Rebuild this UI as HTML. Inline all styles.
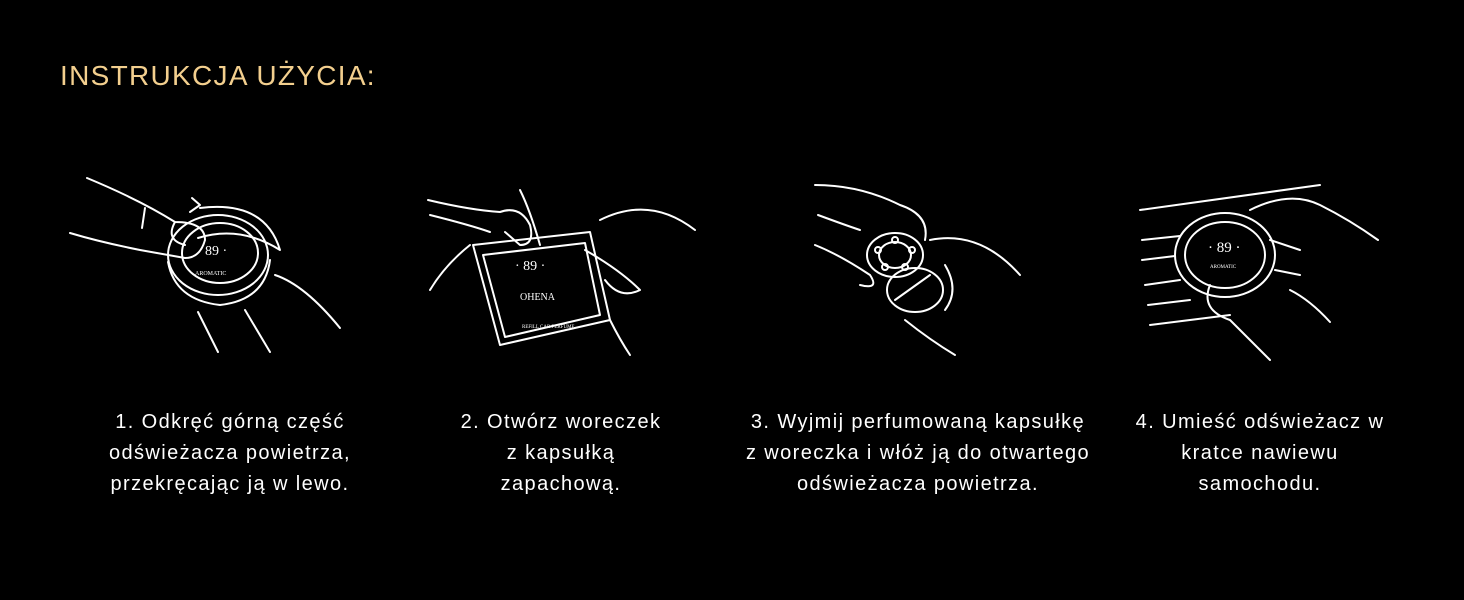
<!DOCTYPE html>
<html><head><meta charset="utf-8"><style>
html,body{margin:0;padding:0;background:#000;}
body{width:1464px;height:600px;position:relative;overflow:hidden;font-family:"Liberation Sans",sans-serif;}
.t{position:absolute;left:60px;top:60px;color:#f3cf8e;font-size:28px;letter-spacing:1.3px;}
.c{position:absolute;top:407px;color:#fff;font-size:20px;letter-spacing:1.4px;line-height:31px;text-align:center;width:440px;}
svg{position:absolute;left:0;top:0;}
svg *{fill:none;stroke:#fff;stroke-width:2;stroke-linecap:round;stroke-linejoin:round;}
svg text{fill:#fff;stroke:none;font-family:"Liberation Serif",serif;}
</style></head><body>
<div class="t">INSTRUKCJA UŻYCIA:</div>
<svg width="1464" height="600">
<!-- 1 -->
<path d="M87 178 Q140 200 175 222 Q205 222 205 240 Q200 258 185 258 L140 250 Q100 242 70 233"/>
<path d="M145 208 L142 228"/><path d="M175 222 Q165 240 185 245"/>
<ellipse cx="218" cy="255" rx="50" ry="40"/><ellipse cx="220" cy="253" rx="38" ry="30"/>
<path d="M168 262 Q175 300 220 305 Q265 300 270 260"/>
<path d="M198 238 Q240 225 280 250 Q265 200 200 208"/><path d="M200 205 L192 198 M200 205 L190 212"/>
<path d="M275 275 Q305 285 340 328"/><path d="M198 312 L218 352 M245 310 L270 352"/>
<text x="205" y="255" font-size="14">89 ·</text><text x="195" y="275" font-size="6">AROMATIC</text>
<!-- 2 -->
<path d="M428 200 Q470 210 500 212 Q520 205 530 225 Q535 245 520 245 L505 232"/>
<path d="M430 215 Q470 225 490 232"/><path d="M520 190 Q530 210 540 245"/>
<path d="M473 245 L590 232 L610 320 L500 345 Z"/><path d="M483 255 L585 243 L600 315 L505 337 Z"/>
<path d="M470 245 Q445 265 430 290"/><path d="M600 220 Q650 195 695 230"/>
<path d="M585 250 Q620 270 640 290 Q620 300 605 280"/><path d="M610 320 Q620 340 630 355"/>
<text x="515" y="270" font-size="14">· 89 ·</text><text x="520" y="300" font-size="10" font-family="Liberation Sans">OHENA</text>
<text x="522" y="328" font-size="5">REFILL CAR PERFUME</text>
<!-- 3 -->
<path d="M815 185 Q860 185 900 205 Q930 215 925 240"/><path d="M818 215 Q845 225 860 230"/>
<path d="M815 245 Q840 255 870 275 Q880 290 860 285"/>
<ellipse cx="895" cy="255" rx="28" ry="22"/><ellipse cx="895" cy="255" rx="16" ry="13"/>
<circle cx="878" cy="250" r="3"/><circle cx="895" cy="240" r="3"/><circle cx="912" cy="250" r="3"/><circle cx="905" cy="267" r="3"/><circle cx="885" cy="267" r="3"/>
<ellipse cx="915" cy="290" rx="28" ry="22"/><path d="M895 300 L930 275"/>
<path d="M930 240 Q980 230 1020 275"/><path d="M905 320 Q930 340 955 355"/><path d="M945 265 Q960 290 945 310"/>
<!-- 4 -->
<path d="M1140 210 L1320 185 M1142 240 L1180 236 M1142 260 L1175 256 M1145 285 L1180 280 M1148 305 L1190 300 M1150 325 L1230 315"/>
<ellipse cx="1225" cy="255" rx="50" ry="42"/><ellipse cx="1225" cy="255" rx="40" ry="33"/>
<path d="M1250 210 Q1290 190 1320 205 Q1350 220 1378 240"/>
<path d="M1210 285 Q1200 310 1230 320 L1270 360"/><path d="M1270 240 L1300 250 M1275 270 L1300 275"/>
<path d="M1290 290 Q1310 300 1330 322"/>
<text x="1208" y="252" font-size="15">· 89 ·</text><text x="1210" y="268" font-size="5">AROMATIC</text>
</svg>
<div class="c" style="left:10px">1. Odkręć górną część<br>odświeżacza powietrza,<br>przekręcając ją w lewo.</div>
<div class="c" style="left:341px">2. Otwórz woreczek<br>z kapsułką<br>zapachową.</div>
<div class="c" style="left:698px">3. Wyjmij perfumowaną kapsułkę<br>z woreczka i włóż ją do otwartego<br>odświeżacza powietrza.</div>
<div class="c" style="left:1040px">4. Umieść odświeżacz w<br>kratce nawiewu<br>samochodu.</div>
</body></html>
